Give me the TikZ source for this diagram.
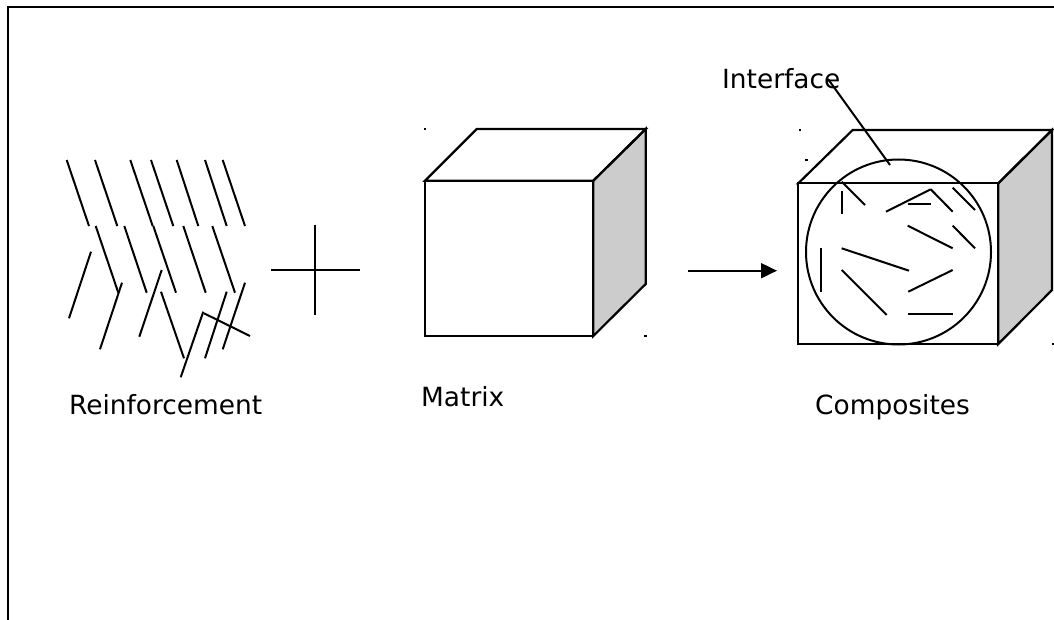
\documentclass[tikz,border=0pt]{standalone}
\usepackage{fontspec}
\setmainfont{DejaVu Sans}
\usetikzlibrary{arrows.meta}
\definecolor{sidegray}{HTML}{CCCCCC}
\begin{document}
\begin{tikzpicture}[x=1pt,y=-1pt,
  frameline/.style={line width=2.2pt},
  fiber/.style={line width=2pt},
  cubeline/.style={line width=2.2pt, line join=miter},
  dotmark/.style={fill=black, inner sep=0pt, minimum size=2.8pt},
  lbl/.style={anchor=base west, inner sep=0pt, font=\fontsize{26.4}{30}\selectfont}]
\useasboundingbox (0,0) rectangle (1054,620);
% frame
\draw[frameline] (8,621) -- (8,7) -- (1055,7);

% reinforcement fibres
\foreach \xa/\ya/\xb/\yb in {
  66.7/160/89/226, 95/160/117.3/226, 130.3/160/152.7/226, 151/160/173.3/226,
  176.7/160/198.3/226, 205/160/226.7/226, 222.7/160/245/226,
  95.7/226/118.3/292.7, 124.3/226/146.7/292.7, 153.3/226/176/292.7,
  183.3/226/205.7/292.7, 212.3/226/235/292.7,
  91/251.7/69/318.3, 122/282.7/100/349.3, 161.7/270/139.3/336.7,
  161/291.7/184/358.3, 203.3/311.7/180.7/377.3, 226.7/291.7/205/358.3,
  245/282.7/222.7/349.3, 204/313.3/250/336}
  \draw[fiber] (\xa,\ya) -- (\xb,\yb);

% plus sign
\draw[fiber] (271,270.3) -- (360,270.3);
\draw[fiber] (315.3,225) -- (315.3,315.3);

% matrix cube
\filldraw[cubeline, fill=sidegray] (593.3,180.7) -- (645.7,129) -- (645.7,284) -- (593.3,336) -- cycle;
\draw[cubeline] (425,180.7) -- (476.7,129) -- (645.7,129) -- (593.3,180.7) -- cycle;
\draw[cubeline] (425,180.7) rectangle (593.3,336);
\node[dotmark] (m1) at (425,129) {};
\node[dotmark] (m2) at (645.7,336) {};

% reaction arrow
\coordinate (arrS) at (688,270.7);
\coordinate (arrE) at (777,270.7);
\draw[fiber, -{Triangle[length=16pt,width=15pt]}] (arrS) -- (arrE);

% composite cube
\filldraw[cubeline, fill=sidegray] (998.3,183.3) -- (1052,130) -- (1052,290) -- (998.3,344) -- cycle;
\draw[cubeline] (798.3,183.3) -- (852.7,130) -- (1052,130) -- (998.3,183.3) -- cycle;
\draw[cubeline, fill=white] (798.3,183.3) rectangle (998.3,344);
\node[dotmark] (c1) at (800,130) {};
\node[dotmark] (c2) at (806.7,160) {};
\node[dotmark] (c3) at (1053,344) {};

% interface circle
\draw[fiber] (898.5,252) circle[radius=92.5];
% fibres inside composite
\foreach \xa/\ya/\xb/\yb in {
  842.3/191/842.3/214, 841.7/181.7/865/205, 886/211.7/930.7/189.3,
  907.7/204.3/931/204.3, 930.7/189.3/952.7/211.7, 952.7/187.7/975/210,
  907.7/225.7/952.7/248.3, 952.7/225.7/975/248.3, 820.7/247.7/820.7/292.3,
  841.7/248.3/909/270.7, 841.7/270/886.7/315, 908.3/291.7/952.7/270,
  907.7/314.3/952.7/314.3}
  \draw[fiber] (\xa,\ya) -- (\xb,\yb);

% labels
\node[lbl] (reinf) at (69,414.3) {Reinforcement};
\node[lbl] (matrix) at (421,406) {Matrix};
\node[lbl] (comp) at (815,414.3) {Composites};
\node[lbl] (iface) at (722,89) {Interface};
\coordinate (ifaceEnd) at (890,165);
\draw[fiber] (828,79) -- (ifaceEnd);
\end{tikzpicture}
\end{document}
